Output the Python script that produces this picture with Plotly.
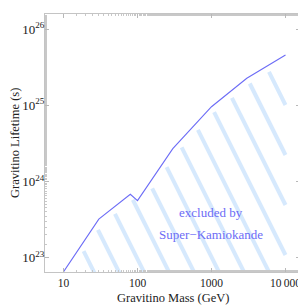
import plotly.graph_objects as go
import numpy as np

# ---- data ----
mass_gev = [10, 30, 80, 100, 300, 1000, 3000, 10000]
lifetime_s = [6.5e22, 3.2e23, 6.8e23, 5.6e23, 2.7e24, 9.6e24, 2.27e25, 4.6e25]

x_tickvals = [10, 100, 1000, 10000]
x_ticktext = ["10", "100", "1000", "10\u2009000"]
y_tickvals = [1e23, 1e24, 1e25, 1e26]
y_ticktext = ["10<sup>23</sup>", "10<sup>24</sup>", "10<sup>25</sup>", "10<sup>26</sup>"]

x_title = "Gravitino Mass (GeV)"
y_title = "Gravitino Lifetime (s)"
label_lines = ["excluded by", "Super\u2212Kamiokande"]

# ---- layout geometry (page has an 8px body margin) ----
PAGE_OFF = 8
PL, PT = 45, 14            # plot-area top-left in page pixels
pw, ph = 255, 258          # plot-area size
W, H = 306 - PAGE_OFF, 307 - PAGE_OFF
ML, MT = PL - PAGE_OFF, PT - PAGE_OFF
MR = W - ML - pw
MB = H - MT - ph
xr = [0.75, 4.196]
yr = [22.811, 26.201]

LINE_COL = "#6c6cf6"
HATCH_COL = "#d6e9fd"
FONT = "Liberation Serif, Times New Roman, serif"


def to_px(lm, lt):
    return (lm - xr[0]) / (xr[1] - xr[0]) * pw, (yr[1] - lt) / (yr[1] - yr[0]) * ph


def from_px(px, py):
    return xr[0] + px / pw * (xr[1] - xr[0]), yr[1] - py / ph * (yr[1] - yr[0])


# curve in pixel space (plot-area coords)
lm = np.log10(mass_gev)
lt = np.log10(lifetime_s)
cx, cy = to_px(lm, lt)

# hatch stripes: lines x - y/2 = c in pixel space, spaced 25px horizontally
hx, hy = [], []
gap = 6.0
dirx, diry = 1 / np.sqrt(5), 2 / np.sqrt(5)
x_end_px = cx[-1]
for c in np.arange(-105, 200, 25):
    found = None
    for i in range(len(cx) - 1):
        f0 = cx[i] - cy[i] / 2 - c
        f1 = cx[i + 1] - cy[i + 1] / 2 - c
        if f0 <= 0 <= f1 and f1 != f0:
            t = -f0 / (f1 - f0)
            found = (cx[i] + t * (cx[i + 1] - cx[i]), cy[i] + t * (cy[i + 1] - cy[i]))
            break
    if found is None:
        continue
    sx, sy = found[0] + gap * dirx, found[1] + gap * diry
    ey = min(ph + 10, 2 * (x_end_px - c))
    ex = c + ey / 2
    if ey <= sy:
        continue
    a = from_px(sx, sy)
    b = from_px(ex, ey)
    hx += [10 ** a[0], 10 ** b[0], None]
    hy += [10 ** a[1], 10 ** b[1], None]

fig = go.Figure()
fig.add_trace(go.Scatter(x=hx, y=hy, mode="lines",
                         line=dict(color=HATCH_COL, width=4), hoverinfo="skip",
                         showlegend=False))
fig.add_trace(go.Scatter(x=mass_gev, y=lifetime_s, mode="lines",
                         line=dict(color=LINE_COL, width=1.1), showlegend=False))

# in-plot label (pixel -> data)
a1 = from_px(211 - PL, 212 - PT)
a2 = from_px(211 - PL, 234 - PT)
for txt, pos in zip(label_lines, [a1, a2]):
    fig.add_annotation(x=pos[0], y=pos[1], text=txt, showarrow=False,
                       font=dict(family=FONT, size=13, color=LINE_COL),
                       xanchor="center", yanchor="middle")

# axis titles as paper annotations
fig.add_annotation(xref="paper", yref="paper", x=(172.5 - PL) / pw, y=(PT + ph - 298) / ph,
                   text=x_title, showarrow=False, xanchor="center", yanchor="middle",
                   font=dict(family=FONT, size=12.5, color="#222"))
fig.add_annotation(xref="paper", yref="paper", x=(15 - PL) / pw, y=(PT + ph - 143) / ph,
                   text=y_title, showarrow=False, xanchor="center", yanchor="middle",
                   textangle=-90, font=dict(family=FONT, size=12.5, color="#222"))

axis_common = dict(
    showline=True, linecolor="#c4c4c4", linewidth=1, mirror="allticks",
    ticks="inside", ticklen=4, tickcolor="#b8b8b8", tickwidth=1,
    showgrid=False, zeroline=False, automargin=False,
    tickfont=dict(family=FONT, size=11.5, color="#222"),
    minor=dict(ticks="inside", ticklen=2, tickcolor="#c8c8c8", showgrid=False),
)

fig.update_xaxes(type="log", range=xr, tickmode="array", tickvals=x_tickvals,
                 ticktext=x_ticktext, **axis_common)
fig.update_yaxes(type="log", range=yr, tickmode="array", tickvals=y_tickvals,
                 ticktext=y_ticktext, ticklabelstandoff=-3,
                 **{**axis_common, "tickfont": dict(family=FONT, size=13, color="#222")})

fig.update_layout(width=W, height=H, margin=dict(l=ML, r=MR, t=MT, b=MB),
                  paper_bgcolor="white", plot_bgcolor="white")

fig.write_html("out.html")
